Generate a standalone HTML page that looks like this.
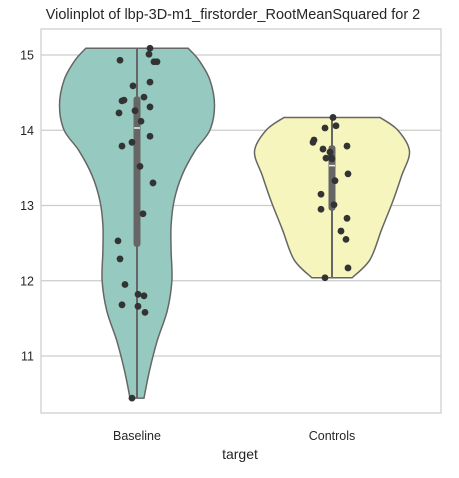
<!DOCTYPE html>
<html><head><meta charset="utf-8"><style>
body{margin:0;background:#fff;}
svg text{font-family:"Liberation Sans","DejaVu Sans",sans-serif;fill:#262626;}
</style></head><body>
<svg id="chart" width="459" height="473" viewBox="0 0 459 473" xmlns="http://www.w3.org/2000/svg">
<text x="233" y="19" font-size="14.5" text-anchor="middle">Violinplot of lbp-3D-m1_firstorder_RootMeanSquared for 2</text>
<rect x="41" y="29" width="400" height="384" fill="#fff" stroke="#cccccc" stroke-width="1.2"/>
<g id="grid"></g><g id="marks"></g><g id="ticks"></g>
<text x="240" y="459" font-size="14" text-anchor="middle">target</text>
</svg>
<script>
const categories=["Baseline","Controls"];
const yTicks=[11,12,13,14,15];
const densB_v=[15.09,14.93,14.67,14.33,14.0,13.73,13.4,13.07,12.74,12.4,12.0,11.6,11.2,10.8,10.44];
const densB_w=[0.66,0.8,0.94,1.0,0.94,0.75,0.58,0.48,0.44,0.44,0.45,0.39,0.26,0.16,0.09];
const densC_v=[14.17,14.0,13.72,13.4,13.07,12.68,12.28,12.04];
const densC_w=[0.62,0.85,1.0,0.9,0.79,0.64,0.49,0.26];
const boxB=[10.44,12.45,14.03,14.45,15.09];
const boxC=[12.04,12.93,13.53,13.8,14.17];
const ptsB=[15.09,15.01,14.93,14.91,14.91,14.59,14.64,14.40,14.39,14.44,14.31,14.26,14.23,14.12,13.92,13.79,13.84,13.52,13.30,12.89,12.53,12.29,11.95,11.82,11.80,11.68,11.66,11.58,10.44];
const jitB=[13,12,-17,17,20,-4,13,-13,-15,7,13,-2,-18,4,13,-15,-5,3,16,6,-19,-17,-12,1,7,-15,1,8,-5];
const ptsC=[14.17,14.03,14.06,13.87,13.84,13.79,13.75,13.71,13.64,13.63,13.62,13.42,13.33,13.15,12.95,13.01,12.83,12.66,12.55,12.17,12.04];
const jitC=[1,-7,4,-18,-19,15,-9,-2,-1,-6,0,16,3,-11,-11,2,15,9,14,16,-7];

const NS="http://www.w3.org/2000/svg";
const y=v=>55+(15-v)*75.25;
const x=i=>137+i*195;
const HW=77.5;
function el(tag,attrs,parent){const e=document.createElementNS(NS,tag);for(const k in attrs)e.setAttribute(k,attrs[k]);parent.appendChild(e);return e;}
const grid=document.getElementById('grid'),marks=document.getElementById('marks'),ticks=document.getElementById('ticks');
yTicks.forEach(t=>{
  const l=el('line',{x1:41,x2:441,y1:y(t),y2:y(t),stroke:'#cccccc','stroke-width':1.2},grid);
  
  
  const tx=el('text',{x:34,y:y(t)+4.5,'font-size':12.5,'text-anchor':'end'},ticks);
  tx.textContent=t;
  
  
});
categories.forEach((c,i)=>{
  const tx=el('text',{x:x(i),y:440,'font-size':12.5,'text-anchor':'middle'},ticks);
  tx.textContent=c;
  
  
});
function smooth(pts){let d='M'+pts[0][0]+','+pts[0][1];
  for(let i=0;i<pts.length-1;i++){const p0=pts[Math.max(i-1,0)],p1=pts[i],p2=pts[i+1],p3=pts[Math.min(i+2,pts.length-1)];
    const c1=[p1[0]+(p2[0]-p0[0])/6,p1[1]+(p2[1]-p0[1])/6],c2=[p2[0]-(p3[0]-p1[0])/6,p2[1]-(p3[1]-p1[1])/6];
    d+=` C${c1[0]},${c1[1]} ${c2[0]},${c2[1]} ${p2[0]},${p2[1]}`;}
  return d;}
function violin(i,vs,ws,box,pts,jit,fill,name){
  const cx=x(i);
  const right=vs.map((v,k)=>[cx+ws[k]*HW,y(v)]);
  const left=vs.map((v,k)=>[cx-ws[k]*HW,y(v)]).reverse();
  let d=smooth(right)+' L'+left[0][0]+','+left[0][1]+smooth(left).slice(smooth(left).indexOf(' C'))+' Z';
  const p=el('path',{d:d,fill:fill,stroke:'#666666','stroke-width':1.5},marks);
  
  
  const w=el('line',{x1:cx,x2:cx,y1:y(box[0]),y2:y(box[4]),stroke:'#666666','stroke-width':2},marks);
  
  
  const b=el('rect',{x:cx-3.5,y:y(box[3]),width:7,height:y(box[1])-y(box[3]),rx:3,fill:'#666666'},marks);
  
  
  const m=el('line',{x1:cx-3,x2:cx+3,y1:y(box[2]),y2:y(box[2]),stroke:'#eeeeee','stroke-width':1.5},marks);
  
  
  pts.forEach((v,k)=>{
    const c=el('circle',{cx:cx+jit[k],cy:y(v),r:3.4,fill:'#333333'},marks);
    
    
  });
}
violin(0,densB_v,densB_w,boxB,ptsB,jitB,'#96cac0','baseline');
violin(1,densC_v,densC_w,boxC,ptsC,jitC,'#f6f5bd','controls');
</script>
</body></html>
